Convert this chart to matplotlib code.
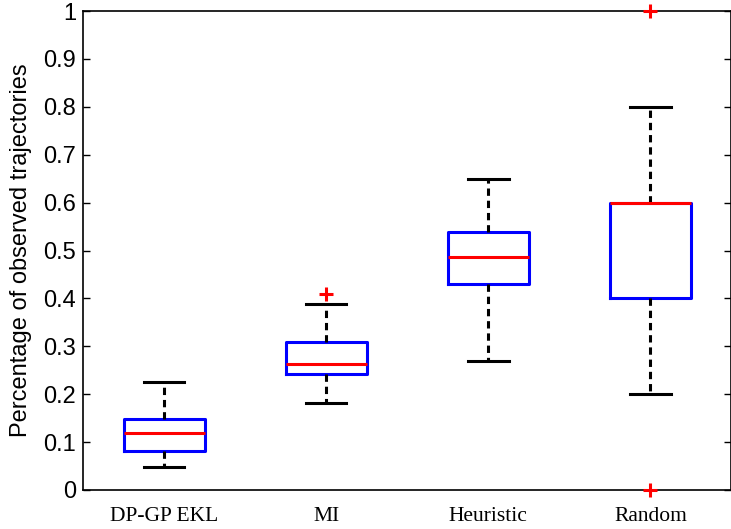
import matplotlib
matplotlib.use("Agg")
import matplotlib.pyplot as plt

categories = ["DP-GP EKL", "MI", "Heuristic", "Random"]
whislo = [0.047, 0.181, 0.269, 0.200]
q1 = [0.081, 0.243, 0.431, 0.401]
med = [0.118, 0.263, 0.487, 0.600]
q3 = [0.149, 0.309, 0.538, 0.600]
whishi = [0.225, 0.388, 0.650, 0.800]
fliers = [[], [0.409], [], [1.0, 0.0]]

stats = []
for i, c in enumerate(categories):
    stats.append(dict(label=c, whislo=whislo[i], q1=q1[i], med=med[i],
                      q3=q3[i], whishi=whishi[i], fliers=fliers[i]))

fig = plt.figure(figsize=(7.31, 5.29), dpi=100)
ax = fig.add_axes([83/731, 39/529, 648.5/731, 479/529])

parts = ax.bxp(stats, positions=[1, 2, 3, 4], widths=0.5, showfliers=True,
       boxprops=dict(color="#0000ff", linewidth=2.2),
       medianprops=dict(color="#ff0000", linewidth=2.2),
       whiskerprops=dict(color="black", linewidth=2.2, linestyle=(0, (2.4, 1.6))),
       capprops=dict(color="black", linewidth=2.2),
       flierprops=dict(marker="+", markeredgecolor="#ff0000", markersize=10,
                       markeredgewidth=2.2, linestyle="none"),
       capwidths=0.25)
for f in parts["fliers"]:
    f.set_clip_on(False)
    f.set_zorder(5)

ax.set_xlim(0.5, 4.5)
ax.set_ylim(0, 1)
ax.set_yticks([i/10 for i in range(11)])
ax.set_yticklabels(["0", "0.1", "0.2", "0.3", "0.4", "0.5", "0.6", "0.7", "0.8", "0.9", "1"],
                   fontfamily="Liberation Sans", fontsize=17)
ax.set_xticks([1, 2, 3, 4])
ax.set_xticklabels(categories, fontfamily="Liberation Serif", fontsize=15.5)
ax.tick_params(axis="x", length=0, pad=12)
ax.tick_params(axis="y", direction="in", length=5, right=True, pad=5, width=1)
ax.set_ylabel("Percentage of observed trajectories", fontfamily="Liberation Sans",
              fontsize=17, labelpad=8)
for s in ax.spines.values():
    s.set_linewidth(1.2)
    s.set_zorder(0)
fig.savefig("out.png", dpi=100)
